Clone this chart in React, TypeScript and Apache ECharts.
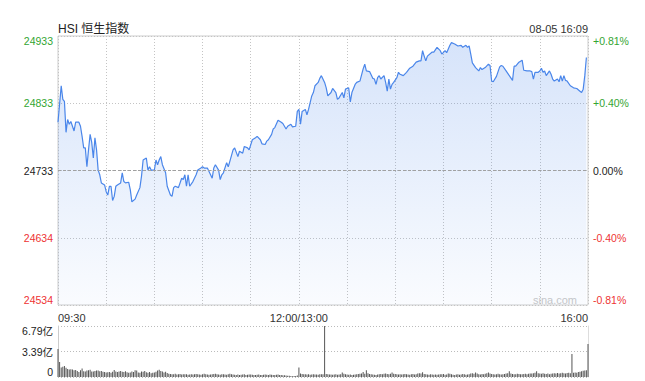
import React, { useEffect, useRef } from "react";
import * as echarts from "echarts";

// ---- data ----
const prevClose = 24733.4;
const halfStep = 99.7; // points between price gridlines

const leftTickLabels = ["24534", "24634", "24733", "24833", "24933"];
const rightTickLabels = ["-0.81%", "-0.40%", "0.00%", "+0.40%", "+0.81%"];
const tickColors = ["#ee3333", "#ee3333", "#222222", "#33a532", "#33a532"];

const xLabelMinutes = [0, 150, 330];
const xLabelTexts = ["09:30", "12:00/13:00", "16:00"];

const volTickLabels = ["0", "3.39亿", "6.79亿"];
const volMax = 6.79;

// trading minute index (0 = 09:30, 150 = 12:00/13:00, 330 = 16:00)
const minutes = [
  0, 2, 3, 4, 5, 6, 7, 8, 10, 11, 13, 14, 15, 16, 17, 18, 19, 20, 21, 22, 23, 24, 25, 26, 27, 29,
  30, 31, 32, 33, 34, 35, 36, 37, 39, 40, 41, 42, 44, 45, 46, 48, 49, 51, 52, 53, 55, 56, 57, 58,
  60, 61, 62, 63, 64, 65, 67, 68, 70, 71, 72, 73, 75, 77, 78, 79, 80, 81, 82, 84, 86, 87, 89,
  90, 91, 93, 95, 96, 97, 98, 100, 101, 102, 103, 105, 106, 107, 109, 110, 112, 113, 115, 116, 118, 119,
  121, 123, 124, 126, 127, 129, 130, 131, 133, 134, 135, 137, 139, 140, 142, 143, 145, 146, 148, 149,
  150, 151, 152, 154, 155, 156, 158, 159, 160, 162, 163, 164, 166, 167, 168, 170, 171, 173, 174, 175, 177, 178, 179,
  181, 182, 183, 185, 186, 188, 190, 191, 192, 194, 196, 197, 198, 199, 200, 201, 203, 204, 205, 206, 207, 208, 209,
  211, 212, 213, 215, 217, 219, 221, 223, 225, 226, 227, 228, 229, 230, 233, 234, 236, 238, 239,
  241, 242, 244, 245, 247, 249, 251, 252, 254, 255, 256, 257, 258, 260, 262, 263, 264, 266, 268, 269,
  270, 271, 273, 275, 276, 277, 279, 281, 283, 284, 285, 287, 289, 290, 292, 294, 295, 296, 297, 299,
  300, 301, 302, 303, 304, 306, 307, 308, 309, 311, 312, 313, 314, 315, 316, 317, 319,
  321, 323, 325, 326, 327, 328, 329,
];

const prices = [
  24805, 24859, 24839, 24836, 24790, 24809, 24802, 24806, 24792, 24805, 24805, 24799, 24784, 24767, 24767, 24739, 24764, 24787, 24775, 24752, 24782, 24764, 24734, 24727, 24715, 24712,
  24702, 24697, 24710, 24710, 24689, 24695, 24710, 24712, 24715, 24730, 24717, 24715, 24716, 24705, 24687, 24691, 24697, 24708, 24725, 24749, 24752, 24734, 24739, 24734,
  24734, 24749, 24742, 24749, 24754, 24742, 24730, 24710, 24697, 24695, 24708, 24710, 24708, 24722, 24720, 24727, 24710, 24727, 24710, 24717, 24727, 24734, 24737,
  24739, 24737, 24737, 24727, 24722, 24737, 24742, 24734, 24720, 24727, 24730, 24745, 24739, 24747, 24764, 24767, 24754, 24762, 24759, 24769, 24767, 24764,
  24779, 24782, 24784, 24779, 24773, 24772, 24777, 24779, 24787, 24795, 24797, 24808, 24805, 24803, 24795, 24799, 24802, 24798, 24799, 24821,
  24824, 24802, 24821, 24824, 24816, 24824, 24844, 24849, 24859, 24864, 24870, 24874, 24864, 24856, 24844, 24849, 24855, 24849, 24839, 24841, 24849, 24841, 24854,
  24856, 24835, 24849, 24861, 24864, 24866, 24884, 24891, 24881, 24880, 24870, 24869, 24861, 24871, 24874, 24869, 24874, 24864, 24851, 24869, 24854, 24861, 24864,
  24871, 24879, 24876, 24874, 24879, 24885, 24888, 24894, 24896, 24896, 24911, 24903, 24896, 24903, 24909, 24909, 24916, 24911, 24906,
  24911, 24908, 24919, 24923, 24921, 24918, 24919, 24916, 24919, 24916, 24918, 24906, 24893, 24886, 24881, 24886, 24883, 24886, 24891, 24889,
  24866, 24865, 24873, 24887, 24889, 24888, 24881, 24874, 24867, 24888, 24888, 24894, 24897, 24882, 24881, 24881, 24880, 24869, 24879, 24879,
  24881, 24885, 24879, 24881, 24874, 24881, 24876, 24869, 24866, 24869, 24865, 24874, 24866, 24874, 24867, 24866, 24859,
  24856, 24855, 24851, 24849, 24854, 24874, 24901,
];

// volume per minute, in 亿 (minute 0 .. 330)
const volumes = [
  3.72, 2.0, 1.27, 1.36, 1.45, 1.22, 1.08, 1.0, 1.04, 1.0,
  0.9, 0.92, 0.81, 0.68, 0.9, 1.13, 0.78, 0.72, 0.86, 0.9,
  0.95, 0.72, 0.74, 0.8, 0.88, 0.85, 0.75, 0.8, 0.7, 0.65,
  0.6, 0.62, 0.66, 0.58, 0.7, 0.92, 0.72, 0.66, 0.74, 0.8,
  0.7, 0.65, 0.78, 0.62, 0.55, 0.6, 0.72, 0.68, 0.9, 0.86,
  0.6, 0.55, 0.74, 0.7, 0.8, 0.62, 0.58, 0.66, 0.5, 0.56,
  0.6, 0.7, 0.85, 0.95, 0.8, 0.72, 0.6, 0.7, 0.52, 0.44,
  0.4, 0.36, 0.38, 0.42, 0.34, 0.36, 0.4, 0.33, 0.35, 0.38,
  0.36, 0.3, 0.34, 0.38, 0.32, 0.35, 0.4, 0.36, 0.33, 0.3,
  0.38, 0.42, 0.36, 0.34, 0.3, 0.33, 0.36, 0.4, 0.44, 0.35,
  0.32, 0.3, 0.36, 0.38, 0.34, 0.3, 0.36, 0.42, 0.38, 0.32,
  0.3, 0.28, 0.32, 0.27, 0.3, 0.33, 0.36, 0.28, 0.3, 0.32,
  0.34, 0.3, 0.27, 0.25, 0.3, 0.32, 0.28, 0.26, 0.3, 0.33,
  0.3, 0.27, 0.34, 0.3, 0.28, 0.25, 0.3, 0.32, 0.26, 0.28,
  0.22, 0.24, 0.2, 0.18, 0.15, 0.12, 0.1, 0.12, 0.14, 0.2,
  1.27,
  0.45, 0.4, 0.36, 0.38, 0.34, 0.35, 0.3, 0.33, 0.36,
  0.32, 0.34, 0.3, 0.36, 0.38, 0.35, 6.79, 0.4, 0.36, 0.32,
  0.34, 0.3, 0.33, 0.36, 0.3, 0.34, 0.38, 0.6, 0.42, 0.36,
  0.32, 0.3, 0.34, 0.28, 0.3, 0.33, 0.36, 0.4, 0.44, 0.48,
  0.68, 0.42, 0.9, 0.5, 0.4, 0.36, 0.34, 0.3, 0.28, 0.32,
  0.36, 0.4, 0.38, 0.42, 0.45, 0.4, 0.38, 0.44, 0.6, 0.42,
  0.4, 0.36, 0.34, 0.38, 0.32, 0.35, 0.4, 0.36, 0.33, 0.3,
  0.36, 0.4, 0.32, 0.38, 0.45, 0.5, 0.48, 0.63, 0.4, 0.36,
  0.34, 0.3, 0.36, 0.33, 0.3, 0.34, 0.3, 0.32, 0.38, 0.36,
  0.4, 0.3, 0.34, 0.45, 0.42, 0.36, 0.3, 0.28, 0.32, 0.36,
  0.3, 0.34, 0.4, 0.36, 0.3, 0.33, 0.38, 0.45, 0.5, 0.42,
  0.6, 0.45, 0.38, 0.34, 0.4, 0.36, 0.42, 0.5, 0.6, 0.45,
  0.4, 0.36, 0.34, 0.38, 0.42, 0.36, 0.34, 0.38, 0.4, 0.45,
  0.5, 0.77, 0.45, 0.4, 0.38, 0.36, 0.42, 0.4, 0.36, 0.38,
  0.4, 0.44, 0.38, 0.42, 0.48, 0.45, 0.5, 0.56, 0.77, 0.5,
  0.45, 0.42, 0.5, 0.44, 0.4, 0.46, 0.36, 0.42, 0.48, 0.5,
  0.45, 0.52, 0.48, 0.5, 0.55, 0.5, 0.46, 0.52, 0.55, 0.5,
  3.07,
  0.55, 0.6, 0.58, 0.66, 0.7, 0.75, 0.82, 0.88, 0.9,
  4.4,
];

const titleText = "HSI 恒生指数";
const dateText = "08-05 16:09";
const watermark = "sina.com";

const FONT = 'Arial, "Liberation Sans", "Noto Sans CJK SC", sans-serif';

export default function App() {
  const ref = useRef<HTMLDivElement>(null);

  useEffect(() => {
    if (!ref.current) return;
    const chart = echarts.init(ref.current, undefined, { renderer: "svg" });
    const range = halfStep * 2;
    const tickIdx = (v: any) => Math.round(Number(v) / halfStep) + 2;
    const volIdx = (v: any) => Math.round(Number(v) / (volMax / 2));

    const option: any = {
      animation: false,
      textStyle: { fontFamily: FONT },
      grid: [
        { left: 58, top: 36, width: 530, height: 269, show: true, borderColor: "#cccccc", borderWidth: 1, backgroundColor: "transparent" },
        { left: 58, top: 326, width: 530, height: 51 },
      ],
      xAxis: [
        {
          type: "value", gridIndex: 0, min: 0, max: 330, interval: 30,
          axisLine: { show: false }, axisTick: { show: false },
          splitLine: { show: true, lineStyle: { type: [1, 2], color: "#c4c4c4" } },
          axisLabel: {
            show: true, margin: 7, fontSize: 11, color: "#333", fontFamily: FONT,
            showMinLabel: true, showMaxLabel: true,
            alignMinLabel: "left", alignMaxLabel: "right",
            formatter: (v: number) => {
              const i = xLabelMinutes.indexOf(Math.round(v));
              return i >= 0 ? xLabelTexts[i] : "";
            },
          },
        },
        {
          type: "value", gridIndex: 1, min: 0, max: 330,
          axisLine: { show: false }, axisTick: { show: false },
          splitLine: { show: false }, axisLabel: { show: false },
        },
      ],
      yAxis: [
        {
          type: "value", gridIndex: 0, min: -range, max: range, interval: halfStep,
          axisLine: { show: false }, axisTick: { show: false },
          splitLine: { show: true, lineStyle: { type: [1, 2], color: "#c4c4c4" } },
          axisLabel: {
            margin: 5, fontSize: 10.5, fontFamily: FONT,
            verticalAlignMinLabel: "bottom", verticalAlignMaxLabel: "top",
            formatter: (v: number) => leftTickLabels[tickIdx(v)] ?? "",
            color: (v: any) => tickColors[tickIdx(v)] ?? "#222",
          },
        },
        {
          type: "value", gridIndex: 0, position: "right", min: -range, max: range, interval: halfStep,
          axisLine: { show: false }, axisTick: { show: false }, splitLine: { show: false },
          axisLabel: {
            margin: 5, fontSize: 10.5, fontFamily: FONT,
            verticalAlignMinLabel: "bottom", verticalAlignMaxLabel: "top",
            formatter: (v: number) => rightTickLabels[tickIdx(v)] ?? "",
            color: (v: any) => tickColors[tickIdx(v)] ?? "#222",
          },
        },
        {
          type: "value", gridIndex: 1, min: 0, max: volMax, interval: volMax / 2,
          axisLine: { show: true, lineStyle: { color: "#cccccc" } }, axisTick: { show: false },
          splitLine: { show: true, lineStyle: { type: [1, 2], color: "#bbbbbb" } },
          axisLabel: {
            margin: 5, fontSize: 10.5, color: "#222", fontFamily: FONT,
            verticalAlignMinLabel: "bottom", verticalAlignMaxLabel: "top",
            formatter: (v: number) => volTickLabels[volIdx(v)] ?? "",
          },
        },
        {
          type: "value", gridIndex: 1, position: "right", min: 0, max: volMax,
          axisLine: { show: true, lineStyle: { color: "#dddddd" } }, axisTick: { show: false },
          splitLine: { show: false }, axisLabel: { show: false },
        },
      ],
      series: [
        {
          type: "line",
          xAxisIndex: 0, yAxisIndex: 0,
          data: minutes.map((m, i) => [m, prices[i] - prevClose]),
          showSymbol: false,
          symbol: "none",
          lineStyle: { color: "#4a86ea", width: 1.2 },
          areaStyle: {
            origin: "start",
            color: new echarts.graphic.LinearGradient(0, 0, 0, 1, [
              { offset: 0, color: "rgba(74,134,234,0.32)" },
              { offset: 1, color: "rgba(74,134,234,0.04)" },
            ]),
          },
          markLine: {
            silent: true, symbol: "none", label: { show: false },
            lineStyle: { type: [3, 2], color: "#a0a0a0", width: 1 },
            data: [{ yAxis: 0 }],
          },
          z: 3,
        },
        {
          type: "bar",
          xAxisIndex: 1, yAxisIndex: 2,
          data: volumes.map((v, i) => [i, v]),
          barWidth: 1,
          itemStyle: { color: "#555555" },
          z: 3,
        },
      ],
      graphic: [
        { type: "text", x: 58, y: 29, style: { text: titleText, fontSize: 12, fill: "#222", fontFamily: FONT, align: "left", verticalAlign: "middle" } },
        { type: "text", x: 588, y: 29, style: { text: dateText, fontSize: 11, fill: "#333", fontFamily: FONT, align: "right", verticalAlign: "middle" } },
        { type: "text", x: 577, y: 300, z: 0, style: { text: watermark, fontSize: 11, fill: "#c8c8c8", fontFamily: FONT, align: "right", verticalAlign: "middle" } },
      ],
    };
    chart.setOption(option);
    return () => chart.dispose();
  }, []);

  return (
    <div
      ref={ref}
      style={{ position: "absolute", left: 0, top: 0, width: 645, height: 381, background: "#fff" }}
    />
  );
}
